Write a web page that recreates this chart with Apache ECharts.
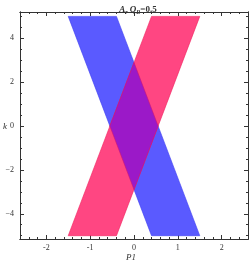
<!DOCTYPE html>
<html><head><meta charset="utf-8">
<script src="https://cdn.jsdelivr.net/npm/echarts@6/dist/echarts.min.js"></script>
<style>html,body{margin:0;padding:0;background:#fff}#c{width:249px;height:266px}</style>
</head><body><div id="c"></div>
<script>
// Data
const blueBand = [[-1.5, 5], [-0.4, 5], [1.5, -5], [0.4, -5]];
const redBand  = [[0.4, 5], [1.5, 5], [-0.4, -5], [-1.5, -5]];
const xMajor = [-2, -1, 0, 1, 2];
const yMajor = [-4, -2, 0, 2, 4];
const xMinor = [-2.6,-2.4,-2.2,-1.8,-1.6,-1.4,-1.2,-0.8,-0.6,-0.4,-0.2,0.2,0.4,0.6,0.8,1.2,1.4,1.6,1.8,2.2,2.4,2.6];
const yMinor = [-5,-4.5,-3.5,-3,-2.5,-1.5,-1,-0.5,0.5,1,1.5,2.5,3,3.5,4.5,5];
const xRange = [-2.6, 2.6];
const yRange = [-5.15, 5.2];

const chart = echarts.init(document.getElementById('c'));
const font = 'Liberation Serif';

// Sutherland-Hodgman clip of polygon subj by convex polygon clip
function clipPoly(subj, clip) {
  let out = subj.slice();
  const area = (p) => { let s = 0; for (let i = 0; i < p.length; i++) { const a = p[i], b = p[(i + 1) % p.length]; s += a[0] * b[1] - b[0] * a[1]; } return s; };
  const sgn = area(clip) > 0 ? 1 : -1;
  for (let i = 0; i < clip.length; i++) {
    const A = clip[i], B = clip[(i + 1) % clip.length];
    const inside = (P) => sgn * ((B[0] - A[0]) * (P[1] - A[1]) - (B[1] - A[1]) * (P[0] - A[0])) >= 0;
    const inter = (P, Q) => {
      const a1 = B[1] - A[1], b1 = A[0] - B[0], c1 = a1 * A[0] + b1 * A[1];
      const a2 = Q[1] - P[1], b2 = P[0] - Q[0], c2 = a2 * P[0] + b2 * P[1];
      const d = a1 * b2 - a2 * b1;
      return [(b2 * c1 - b1 * c2) / d, (a1 * c2 - a2 * c1) / d];
    };
    const inp = out; out = [];
    for (let j = 0; j < inp.length; j++) {
      const P = inp[j], Q = inp[(j + 1) % inp.length];
      const pi = inside(P), qi = inside(Q);
      if (pi) { out.push(P); if (!qi) out.push(inter(P, Q)); }
      else if (qi) out.push(inter(P, Q));
    }
  }
  return out;
}

function bandSeries(pts, color, stroke, z) {
  return {
    type: 'custom', coordinateSystem: 'cartesian2d', z: z,
    data: [[pts[0][0], pts[0][1]]],
    renderItem: function (params, api) {
      const c = pts.map(p => api.coord(p));
      return { type: 'polygon', shape: { points: c },
        style: { fill: color, stroke: stroke, lineWidth: 0.6 } };
    },
    silent: true, clip: true
  };
}
function xAxisDef(pos, ticks, len, labels) {
  return {
    type: 'value', min: xRange[0], max: xRange[1], position: pos,
    axisLine: { show: true, onZero: false, lineStyle: { color: '#333', width: 1 } },
    axisTick: { show: true, inside: true, length: len, customValues: ticks, lineStyle: { color: '#333' } },
    axisLabel: { show: labels, customValues: xMajor, fontFamily: font, fontSize: 8, color: '#333', margin: 5 },
    splitLine: { show: false }
  };
}
function yAxisDef(pos, ticks, len, labels) {
  return {
    type: 'value', min: yRange[0], max: yRange[1], position: pos,
    axisLine: { show: true, onZero: false, lineStyle: { color: '#333', width: 1 } },
    axisTick: { show: true, inside: true, length: len, customValues: ticks, lineStyle: { color: '#333' } },
    axisLabel: { show: labels, customValues: yMajor, fontFamily: font, fontSize: 8, color: '#333', margin: 6,
      formatter: v => (v < 0 ? '\u2212' + (-v) : '' + v) },
    splitLine: { show: false }
  };
}
const overlap = clipPoly(blueBand, redBand);
chart.setOption({
  animation: false,
  grid: { left: 20, right: 1, top: 12, bottom: 27, containLabel: false },
  title: {
    text: '{i|A}{s|r}{i| Q}{s|R}{n|=0.5}', left: 133, top: 0, textAlign: 'center',
    textStyle: { rich: {
      i: { fontFamily: font, fontStyle: 'italic', fontSize: 9, color: '#333' },
      s: { fontFamily: font, fontStyle: 'italic', fontSize: 6, color: '#333', verticalAlign: 'bottom', padding: [4, 0, 0, 0] },
      n: { fontFamily: font, fontSize: 9, color: '#333' } } }
  },
  graphic: [
    { type: 'text', left: 126, top: 253, style: { text: 'P1', font: 'italic 9px "Liberation Serif"', fill: '#333' } },
    { type: 'text', left: 3, top: 122, style: { text: 'k', font: 'italic 9px "Liberation Serif"', fill: '#333' } }
  ],
  xAxis: [ xAxisDef('bottom', xMajor, 4, true), xAxisDef('bottom', xMinor, 2, false),
           xAxisDef('top', xMajor, 4, false), xAxisDef('top', xMinor, 2, false) ],
  yAxis: [ yAxisDef('left', yMajor, 4, true), yAxisDef('left', yMinor, 2, false),
           yAxisDef('right', yMajor, 4, false), yAxisDef('right', yMinor, 2, false) ],
  series: [
    bandSeries(blueBand, 'rgb(90,90,255)', 'rgb(60,60,240)', 2),
    bandSeries(redBand, 'rgb(255,70,130)', 'rgb(240,30,90)', 3),
    bandSeries(overlap, 'rgb(155,25,200)', 'rgb(200,20,120)', 4)
  ]
});
</script></body></html>
